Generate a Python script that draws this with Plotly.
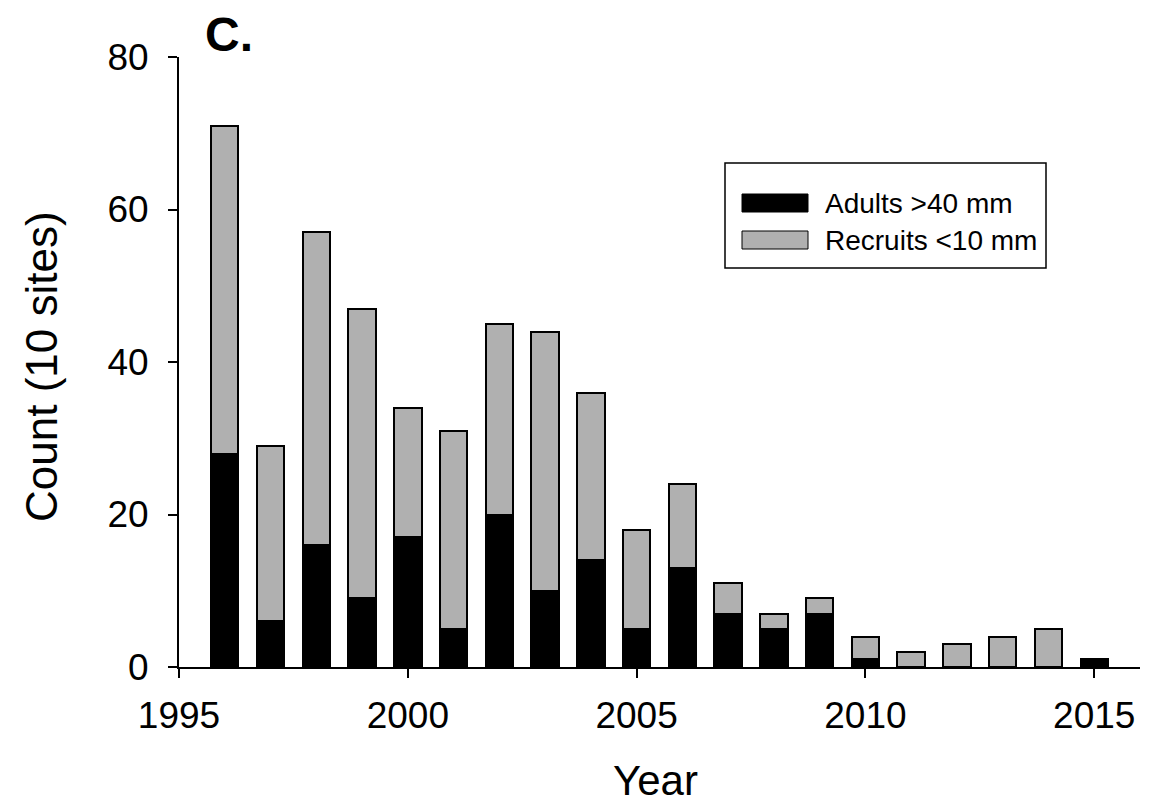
import plotly.graph_objects as go

# Annual counts across 10 sites
years = [1996, 1997, 1998, 1999, 2000, 2001, 2002, 2003, 2004, 2005,
         2006, 2007, 2008, 2009, 2010, 2011, 2012, 2013, 2014, 2015]
adults = [28, 6, 16, 9, 17, 5, 20, 10, 14, 5, 13, 7, 5, 7, 1, 0, 0, 0, 0, 1]
totals = [71, 29, 57, 47, 34, 31, 45, 44, 36, 18, 24, 11, 7, 9, 4, 2, 3, 4, 5, 1]
recruits = [t - a for t, a in zip(totals, adults)]

series_names = ["Adults >40 mm", "Recruits <10 mm"]
series_colors = ["#000000", "#b0b0b0"]

x_ticks = [1995, 2000, 2005, 2010, 2015]
y_ticks = [0, 20, 40, 60, 80]

FONT = "Liberation Sans, Arial, sans-serif"

fig = go.Figure()
for name, vals, col in zip(series_names, [adults, recruits], series_colors):
    fig.add_trace(go.Bar(
        x=years, y=vals, name=name, width=0.6,
        marker=dict(color=col, line=dict(color="#000000", width=2)),
        showlegend=False,
    ))

fig.update_layout(
    barmode="stack",
    width=1159, height=808,
    margin=dict(l=179, r=19, t=57, b=141),
    paper_bgcolor="white", plot_bgcolor="white",
    font=dict(family=FONT, color="#000000"),
)
fig.update_xaxes(
    range=[1995, 2016], tickvals=x_ticks, ticktext=[str(v) for v in x_ticks],
    showline=True, linecolor="#000000", linewidth=2, mirror=False,
    ticks="outside", ticklen=9, tickwidth=2, tickcolor="#000000",
    showgrid=False, zeroline=False, tickfont=dict(size=37, family=FONT),
    ticklabelstandoff=6,
)
fig.update_yaxes(
    range=[0, 80], tickvals=y_ticks, ticktext=[str(v) for v in y_ticks],
    showline=True, linecolor="#000000", linewidth=2,
    ticks="outside", ticklen=9, tickwidth=2, tickcolor="#000000",
    showgrid=False, zeroline=False, tickfont=dict(size=37, family=FONT),
    ticklabelstandoff=12,
)

# Axis titles
fig.add_annotation(
    x=(655 - 179) / (1140 - 179), y=-(781 - 667) / (667 - 57), xref="paper", yref="paper",
    xanchor="center", yanchor="middle", text="Year", showarrow=False,
    font=dict(size=42, family=FONT),
)
fig.add_annotation(
    x=-(179 - 41) / (1140 - 179), y=(667 - 367) / (667 - 57), xref="paper", yref="paper",
    xanchor="center", yanchor="middle", text="Count (10 sites)", textangle=-90,
    showarrow=False, font=dict(size=44, family=FONT),
)

# Panel label
fig.add_annotation(
    x=(203 - 179) / (1140 - 179), y=(667 - 34) / (667 - 57), xref="paper", yref="paper",
    xanchor="left", yanchor="middle",
    text="<b>C.</b>", showarrow=False, font=dict(size=48, family=FONT),
)

# Legend box drawn in paper coordinates
def px_x(p):
    return (p - 179) / (1140 - 179)

def px_y(p):
    return (667 - p) / (667 - 57)

fig.add_shape(type="rect", xref="paper", yref="paper",
              x0=px_x(725), x1=px_x(1046), y0=px_y(268), y1=px_y(163),
              line=dict(color="#000000", width=1.5), fillcolor="white")
for i, (name, col) in enumerate(zip(series_names, series_colors)):
    cy = 203 + i * 37
    fig.add_shape(type="rect", xref="paper", yref="paper",
                  x0=px_x(742), x1=px_x(808), y0=px_y(cy + 9), y1=px_y(cy - 9),
                  line=dict(color="#000000", width=1), fillcolor=col)
    fig.add_annotation(x=px_x(823), y=px_y(cy), xref="paper", yref="paper",
                       xanchor="left", yanchor="middle", text=name, showarrow=False,
                       font=dict(size=28, family=FONT))

fig.write_html("out.html")
